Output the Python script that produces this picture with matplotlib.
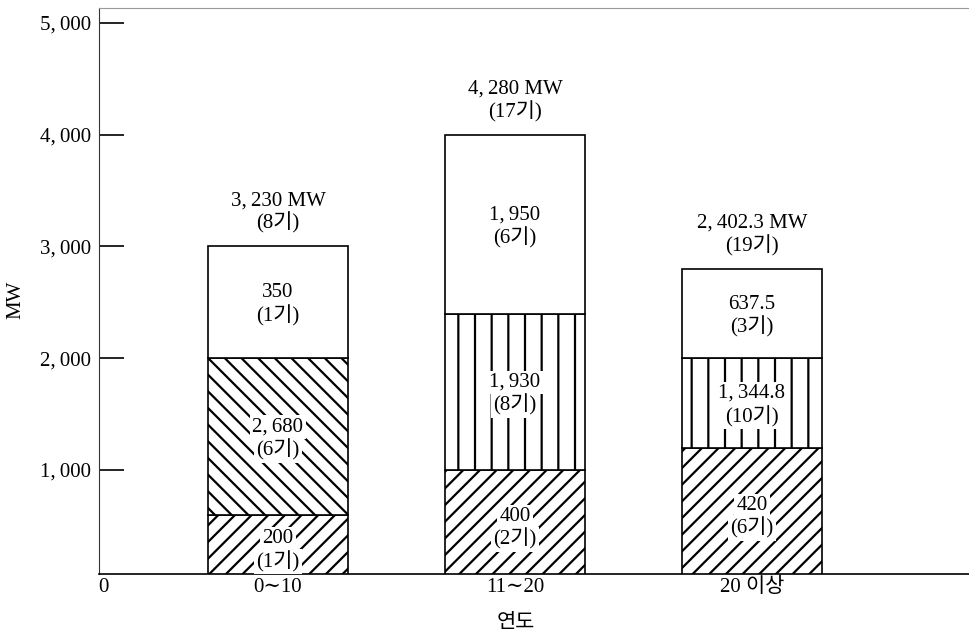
import numpy as np
import matplotlib
matplotlib.use("Agg")
import matplotlib.pyplot as plt

plt.rcParams['font.family'] = ['Liberation Serif', 'Noto Sans CJK KR', 'DejaVu Serif']
plt.rcParams['hatch.linewidth'] = 1.6

# categories (years of operation)
categories = ['0∼10', '11∼20', '20 이상']

# drawn segment heights (schematic)
h_bottom = [600, 1000, 1200]
h_middle = [1400, 1400, 800]
h_top = [1000, 1600, 800]

# labels written in the segments
lab_bottom = ['200', '400', '420']
cnt_bottom = ['1기', '2기', '6기']
lab_middle = ['2,\u2009680', '1,\u2009930', '1,\u2009344.8']
cnt_middle = ['6기', '8기', '10기']
lab_top = ['350', '1,\u2009950', '637.5']
cnt_top = ['1기', '6기', '3기']

# totals above bars
totals = ['3,\u2009230 MW', '4,\u2009280 MW', '2,\u2009402.3 MW']
total_cnt = ['8기', '17기', '19기']

hatch_middle = ['\\\\', '|', '|']

fig = plt.figure(figsize=(9.7, 6.33), dpi=100)
ax = fig.add_axes([99/970, 59/633, 871/970, 566/633])

x = np.arange(1, len(categories) + 1)
w = 0.59
fs = 15

b1 = ax.bar(x, h_bottom, w, color='white', edgecolor='black', linewidth=1.2, hatch='//')
b2 = ax.bar(x, h_middle, w, bottom=h_bottom, color='white', edgecolor='black', linewidth=1.2)
for p, hh in zip(b2, hatch_middle):
    p.set_hatch(hh)
bot_top = np.array(h_bottom) + np.array(h_middle)
b3 = ax.bar(x, h_top, w, bottom=bot_top, color='white', edgecolor='black', linewidth=1.2)

box = dict(boxstyle='square,pad=0.1', facecolor='white', edgecolor='none')
for i in range(len(categories)):
    segs = [(0, h_bottom[i], lab_bottom[i], cnt_bottom[i]),
            (h_bottom[i], h_middle[i], lab_middle[i], cnt_middle[i]),
            (bot_top[i], h_top[i], lab_top[i], cnt_top[i])]
    for base, hh, lab, cnt in segs:
        yc = base + hh / 2
        ax.annotate(lab, (x[i], yc), xytext=(0, 0), textcoords='offset points',
                    ha='center', va='bottom', fontsize=fs, bbox=box)
        ax.annotate('(' + cnt + ')', (x[i], yc), xytext=(0, -2), textcoords='offset points',
                    ha='center', va='top', fontsize=fs, bbox=box)
    top = bot_top[i] + h_top[i]
    ax.annotate(totals[i] + '\n(' + total_cnt[i] + ')', (x[i], top),
                xytext=(0, 9), textcoords='offset points',
                ha='center', va='bottom', fontsize=fs, linespacing=1.15)

ax.set_ylim(69, 5134)
x0 = 1 - 179/237
ax.set_xlim(x0, x0 + 871/237)

ax.set_yticks([1000, 2000, 3000, 4000, 5000])
ax.set_yticklabels(['1,\u2009000', '2,\u2009000', '3,\u2009000', '4,\u2009000', '5,\u2009000'])
ax.tick_params(axis='y', direction='in', length=18, width=1.2, pad=6, labelsize=fs)
ax.set_xticks([x0 + 0.02] + list(x))
ax.set_xticklabels(['0'] + categories)
ax.tick_params(axis='x', length=0, pad=3, labelsize=fs)

ax.spines['right'].set_visible(False)
ax.spines['top'].set_color('#999999')
ax.spines['top'].set_linewidth(0.8)
ax.spines['left'].set_color('#333333')
ax.spines['bottom'].set_linewidth(1.2)

ax.set_ylabel('MW', fontsize=fs)
ax.yaxis.set_label_coords(-0.085, 0.484)
ax.set_xlabel('연도', fontsize=fs)
ax.xaxis.set_label_coords(0.479, -0.071)

fig.savefig('out.png', dpi=100)
